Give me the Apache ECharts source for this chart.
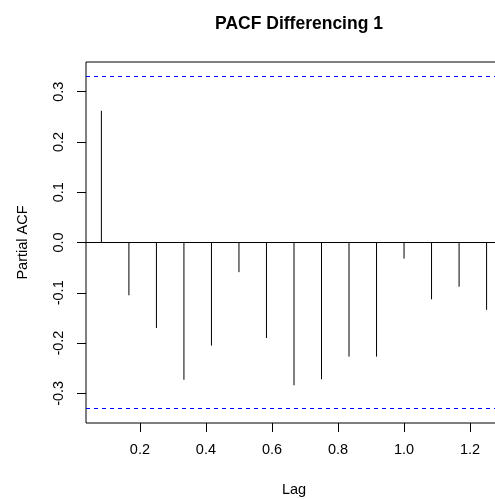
<!DOCTYPE html>
<html>
<head>
<meta charset="utf-8">
<script src="https://cdn.jsdelivr.net/npm/echarts@6/dist/echarts.min.js"></script>
<style>
  html, body { margin: 0; padding: 0; background: #fff; }
  #chart { width: 495px; height: 499px; }
</style>
</head>
<body>
<div id="chart"></div>
<script>
// lag (in years, monthly series) and partial autocorrelation
const lags = [0.0833, 0.1667, 0.25, 0.3333, 0.4167, 0.5, 0.5833, 0.6667, 0.75, 0.8333, 0.9167, 1.0, 1.0833, 1.1667, 1.25]
const pacf = [0.262, -0.105, -0.170, -0.273, -0.205, -0.059, -0.190, -0.284, -0.272, -0.227, -0.227, -0.032, -0.113, -0.088, -0.134]
const ciLimit = 0.333
const xTicks = [0.2, 0.4, 0.6, 0.8, 1.0, 1.2]
const yTicks = [-0.3, -0.2, -0.1, 0.0, 0.1, 0.2, 0.3]

const font = 'Liberation Sans, Arial, sans-serif'
const chart = echarts.init(document.getElementById('chart'), null, { renderer: 'canvas' })

const option = {
  animation: false,
  backgroundColor: '#fff',
  title: {
    text: 'PACF Differencing 1',
    left: 294,
    textAlign: 'center',
    top: 10,
    textStyle: { fontFamily: font, fontSize: 17.5, fontWeight: 'bold', color: '#000' }
  },
  grid: {
    left: 86,
    top: 62,
    width: 416,
    height: 361,
    outerBoundsMode: 'none',
    containLabel: false,
    show: true,
    borderColor: '#000',
    borderWidth: 1,
    backgroundColor: 'transparent'
  },
  xAxis: {
    type: 'value',
    min: 0.0367,
    max: 1.2967,
    name: 'Lag',
    nameLocation: 'middle',
    nameGap: 59,
    nameTextStyle: { fontFamily: font, fontSize: 14.5, color: '#000' },
    axisLine: { show: false, onZero: false },
    splitLine: { show: false },
    axisTick: {
      show: true,
      length: 9,
      customValues: xTicks,
      lineStyle: { color: '#000' }
    },
    axisLabel: {
      customValues: xTicks,
      margin: 19,
      fontFamily: font,
      fontSize: 14.5,
      color: '#000',
      formatter: (v) => v.toFixed(1)
    }
  },
  yAxis: {
    type: 'value',
    min: -0.359,
    max: 0.359,
    name: 'Partial ACF',
    nameLocation: 'middle',
    nameGap: 56,
    nameTextStyle: { fontFamily: font, fontSize: 14.5, color: '#000' },
    axisLine: { show: false, onZero: false },
    splitLine: { show: false },
    axisTick: {
      show: true,
      length: 9,
      customValues: yTicks,
      lineStyle: { color: '#000' }
    },
    axisLabel: {
      customValues: yTicks,
      rotate: 90,
      margin: 20,
      fontFamily: font,
      fontSize: 14.5,
      color: '#000',
      formatter: (v) => v.toFixed(1)
    }
  },
  series: [
    {
      type: 'custom',
      silent: true,
      data: lags.map((l, i) => [l, pacf[i]]),
      renderItem: function (params, api) {
        const p0 = api.coord([api.value(0), 0])
        const p1 = api.coord([api.value(0), api.value(1)])
        return {
          type: 'line',
          shape: { x1: p0[0], y1: p0[1], x2: p1[0], y2: p1[1] },
          style: { stroke: '#000', lineWidth: 1 }
        }
      },
      markLine: {
        silent: true,
        symbol: 'none',
        label: { show: false },
        lineStyle: { color: '#000', width: 1, type: 'solid' },
        data: [{ yAxis: 0 }]
      }
    },
    {
      type: 'line',
      data: [],
      silent: true,
      markLine: {
        silent: true,
        symbol: 'none',
        label: { show: false },
        lineStyle: { color: '#0000ff', width: 1, type: [4, 4] },
        data: [{ yAxis: ciLimit }, { yAxis: -ciLimit }]
      }
    }
  ]
}

chart.setOption(option)
</script>
</body>
</html>
